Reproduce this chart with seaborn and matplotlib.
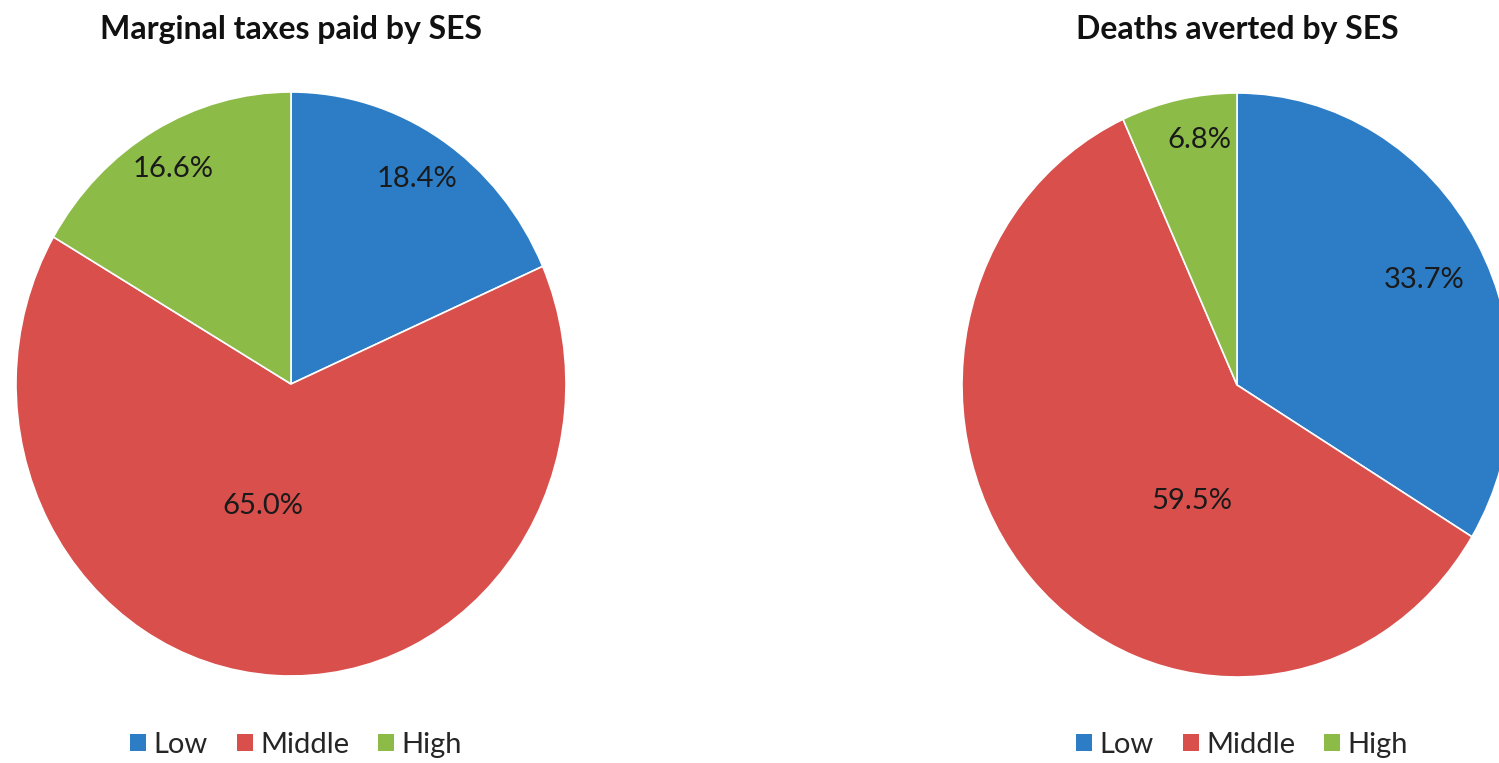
import numpy as np
import matplotlib
matplotlib.use("Agg")
import matplotlib.pyplot as plt
import seaborn as sns
from matplotlib.patches import Patch

# ── Data ───────────────────────────────────────────────────────────────────────
categories = ["Low", "Middle", "High"]
taxes_share = [18.4, 65.0, 16.6]
deaths_share = [33.7, 59.5, 6.8]
titles = ["Marginal taxes paid by SES", "Deaths averted by SES"]

colors = ["#2D7DC6", "#D94F4C", "#8CBB47"]

sns.set_theme(style="white")
plt.rcParams["font.family"] = ["Lato", "DejaVu Sans"]

W, H = 1499, 763
fig = plt.figure(figsize=(W / 100, H / 100), dpi=100)

RX, RY = 275, 292  # pie is slightly stretched vertically in the original
centres = [(291, 384), (1237, 385)]
# label placement (radial fraction, angle shift in degrees) per wedge, mimicking Excel best-fit
label_place = [
    [(0.84, 0.0), (0.43, -10.5), (0.85, 0.3)],
    [(0.77, -1.5), (0.43, 25.8), (0.85, -3.1)],
]

for values, title, (cx, cy), place in zip([taxes_share, deaths_share], titles,
                                           centres, label_place):
    ax = fig.add_axes([(cx - RX) / W, (H - cy - RY) / H, 2 * RX / W, 2 * RY / H])
    wedges, _ = ax.pie(values, colors=colors, startangle=90, counterclock=False,
                       radius=1.0,
                       wedgeprops=dict(edgecolor="white", linewidth=1.2))
    for w, v, (frac, shift) in zip(wedges, values, place):
        ang = np.deg2rad((w.theta1 + w.theta2) / 2 + shift)
        ax.text(frac * np.cos(ang), frac * np.sin(ang), f"{v:.1f}%",
                ha="center", va="center", fontsize=21, color="#1a1a1a")
    ax.set_xlim(-1, 1)
    ax.set_ylim(-1, 1)
    ax.set_aspect("auto")
    ax.axis("off")

    fig.text(cx / W, 1 - 30 / H, title, ha="center", va="center",
             fontsize=23, fontweight="bold", color="#111111")

    handles = [Patch(facecolor=c, edgecolor="none") for c in colors]
    fig.legend(handles, categories, loc="center",
               bbox_to_anchor=((cx + 5) / W, 1 - 745 / H), ncol=3, frameon=False,
               fontsize=21, handlelength=0.55, handleheight=0.55,
               handletextpad=0.25, columnspacing=1.0)

fig.savefig("out.png", dpi=100)
plt.close(fig)
